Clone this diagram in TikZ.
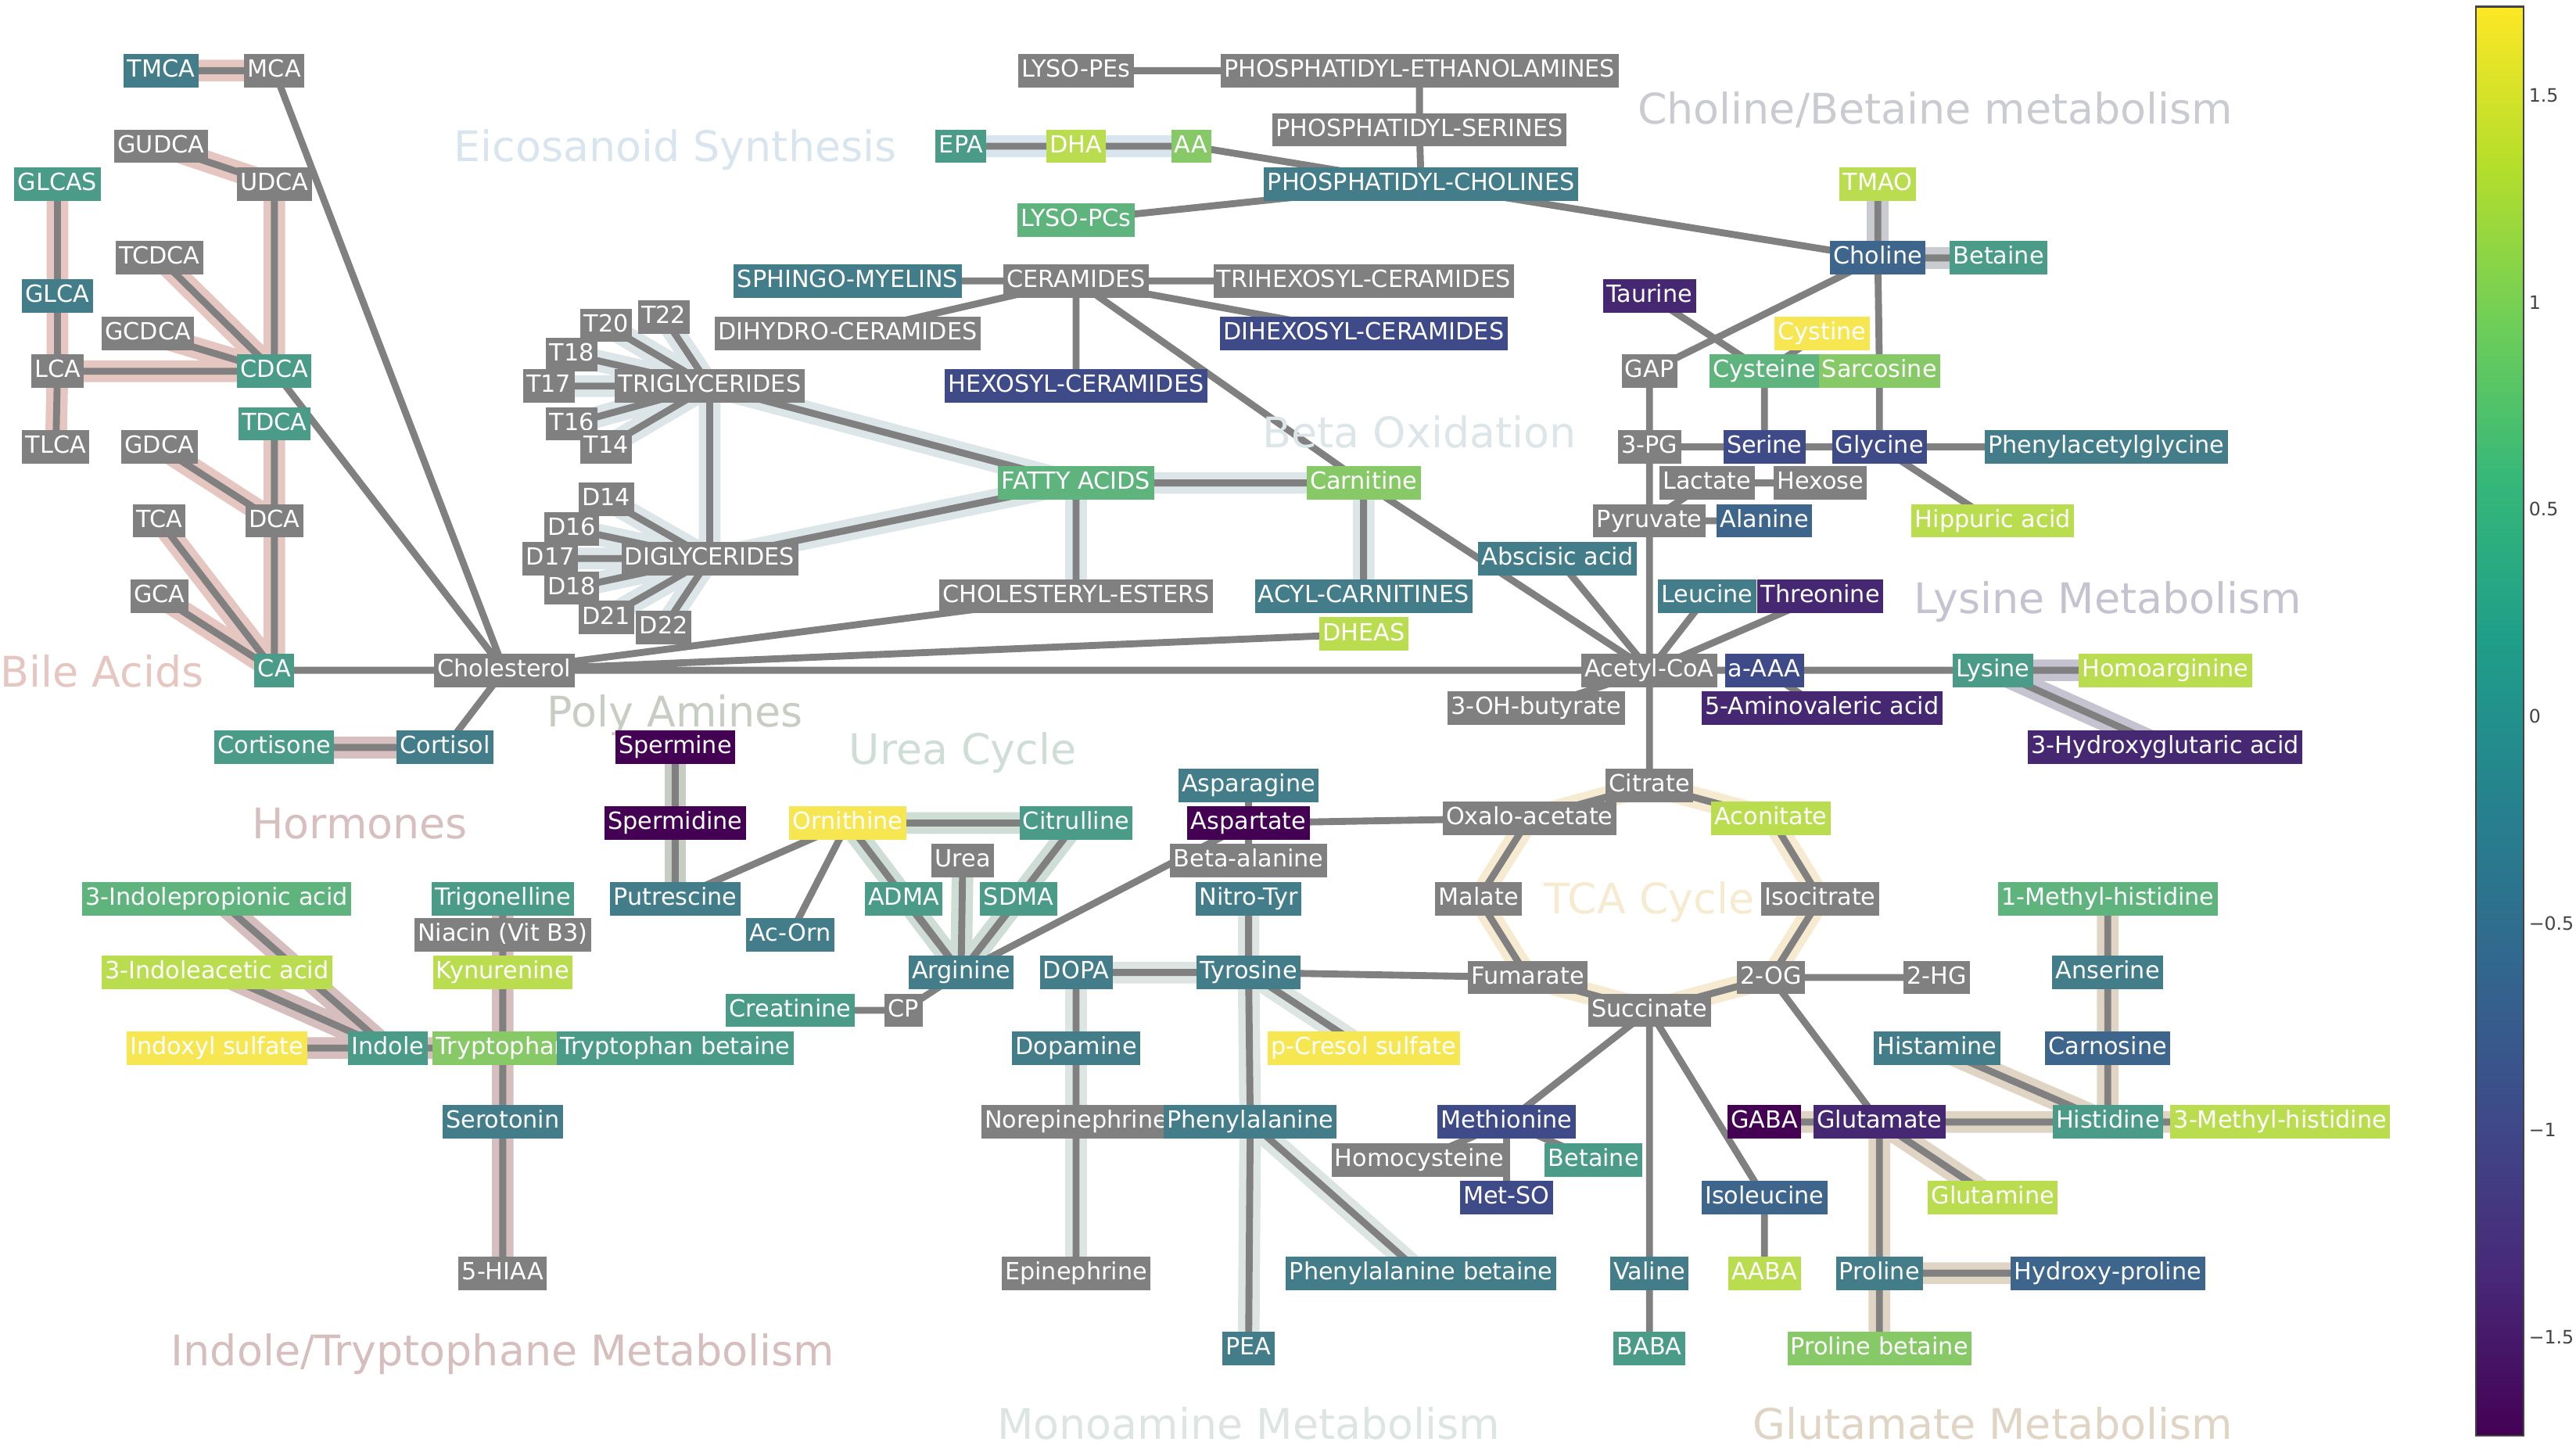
\documentclass[tikz,border=0pt]{standalone}
\usepackage{fontspec}
\setmainfont{DejaVu Sans}
\usetikzlibrary{positioning}
\definecolor{nodegray}{HTML}{808080}
\definecolor{linkgray}{HTML}{808080}
\definecolor{tickgray}{HTML}{444444}
\definecolor{deepfill}{HTML}{440154}
\definecolor{purplefill}{HTML}{452871}
\definecolor{indigofill}{HTML}{3F4A88}
\definecolor{bluefill}{HTML}{3E658C}
\definecolor{tealfill}{HTML}{437D89}
\definecolor{jadefill}{HTML}{4A9C88}
\definecolor{greenfill}{HTML}{5EB47C}
\definecolor{limefill}{HTML}{86C966}
\definecolor{chartfill}{HTML}{BADD4F}
\definecolor{yellowfill}{HTML}{F6E652}
\definecolor{bilecolor}{HTML}{E5C6C0}
\definecolor{hormonecolor}{HTML}{D8BFBF}
\definecolor{eicocolor}{HTML}{D9E5EE}
\definecolor{betacolor}{HTML}{DCE5E8}
\definecolor{cholinecolor}{HTML}{CACAD1}
\definecolor{lysinecolor}{HTML}{C5C3CF}
\definecolor{polycolor}{HTML}{C8CDC3}
\definecolor{ureacolor}{HTML}{CFDDD7}
\definecolor{tcacolor}{HTML}{F6EBD1}
\definecolor{glutcolor}{HTML}{E0D4C5}
\definecolor{monocolor}{HTML}{DDE5E2}
\definecolor{indolecolor}{HTML}{D6BEBE}
\definecolor{vir0}{HTML}{440154}
\definecolor{vir1}{HTML}{482878}
\definecolor{vir2}{HTML}{3E4A89}
\definecolor{vir3}{HTML}{31688E}
\definecolor{vir4}{HTML}{26828E}
\definecolor{vir5}{HTML}{1F9E89}
\definecolor{vir6}{HTML}{35B779}
\definecolor{vir7}{HTML}{6ECE58}
\definecolor{vir8}{HTML}{B5DE2B}
\definecolor{vir9}{HTML}{FDE725}
\pgfdeclareverticalshading{viridis}{100bp}{color(0bp)=(vir0); color(25bp)=(vir0);
  color(30.56bp)=(vir1); color(36.11bp)=(vir2); color(41.67bp)=(vir3); color(47.22bp)=(vir4);
  color(52.78bp)=(vir5); color(58.33bp)=(vir6); color(63.89bp)=(vir7); color(69.44bp)=(vir8);
  color(75bp)=(vir9); color(100bp)=(vir9)}
\pgfdeclarelayer{hlayer}
\pgfdeclarelayer{llayer}
\pgfsetlayers{hlayer,llayer,main}

\begin{document}
\begin{tikzpicture}[x=0.02cm, y=-0.02cm, every node/.style={font=\fontsize{8.2}{9}\selectfont}]

\tikzset{
  metab/.style={rectangle, fill=nodegray, text=white, inner xsep=1.2pt, inner ysep=1.7pt,
    text height=6.3pt, text depth=1.9pt},
  pathlabel/.style={font=\fontsize{14.6}{16}\selectfont, inner sep=0pt,
    text height=10.6pt, text depth=0pt},
  link/.style={draw=linkgray, line width=2.4pt},
  hilite/.style={line width=7.5pt},
  ticklabel/.style={font=\fontsize{6.4}{8}\selectfont, text=tickgray, anchor=west, inner sep=0pt},
}

\useasboundingbox (0,0) rectangle (1568,882);

% ---- pathway titles ----
\node[pathlabel, text=bilecolor]    (tbile)  at (62,409)   {Bile Acids};
\node[pathlabel, text=eicocolor]    (teico)  at (411,89)   {Eicosanoid Synthesis};
\node[pathlabel, text=cholinecolor] (tchol)  at (1178,66)  {Choline/Betaine metabolism};
\node[pathlabel, text=betacolor]    (tbeta)  at (864,263)  {Beta Oxidation};
\node[pathlabel, text=lysinecolor]  (tlys)   at (1283,364) {Lysine Metabolism};
\node[pathlabel, text=polycolor]    (tpoly)  at (411,433)  {Poly Amines};
\node[pathlabel, text=ureacolor]    (turea)  at (586,456)  {Urea Cycle};
\node[pathlabel, text=hormonecolor] (thorm)  at (219,501)  {Hormones};
\node[pathlabel, text=tcacolor]     (ttca)   at (1004,547) {TCA Cycle};
\node[pathlabel, text=indolecolor]  (tindo)  at (306,822)  {Indole/Tryptophane Metabolism};
\node[pathlabel, text=monocolor]    (tmono)  at (760,867)  {Monoamine Metabolism};
\node[pathlabel, text=glutcolor]    (tglut)  at (1213,867) {Glutamate Metabolism};

% ---- bile acids and hormones ----
\node[metab, fill=tealfill]  (tmca)  at (98,43)   {TMCA};
\node[metab]                 (mca)   at (167,43)  {MCA};
\node[metab]                 (gudca) at (98,89)   {GUDCA};
\node[metab]                 (udca)  at (167,112) {UDCA};
\node[metab, fill=jadefill]  (glcas) at (35,112)  {GLCAS};
\node[metab]                 (tcdca) at (97,157)  {TCDCA};
\node[metab, fill=tealfill]  (glca)  at (35,180)  {GLCA};
\node[metab]                 (gcdca) at (90,203)  {GCDCA};
\node[metab]                 (lca)   at (35,226)  {LCA};
\node[metab, fill=jadefill]  (cdca)  at (167,226) {CDCA};
\node[metab, fill=jadefill]  (tdca)  at (167,258) {TDCA};
\node[metab]                 (tlca)  at (34,272)  {TLCA};
\node[metab]                 (gdca)  at (97,272)  {GDCA};
\node[metab]                 (tca)   at (97,317)  {TCA};
\node[metab]                 (dca)   at (167,317) {DCA};
\node[metab]                 (gca)   at (97,363)  {GCA};
\node[metab, fill=jadefill]  (ca)    at (167,408) {CA};
\node[metab]                 (chol)  at (307,408) {Cholesterol};
\node[metab, fill=jadefill]  (cortisone) at (167,455) {Cortisone};
\node[metab, fill=tealfill]  (cortisol)  at (271,455) {Cortisol};

% ---- lipids ----
\node[metab]                 (lysope) at (655,43)  {LYSO-PEs};
\node[metab]                 (pe)     at (864,43)  {PHOSPHATIDYL-ETHANOLAMINES};
\node[metab]                 (ps)     at (864,79)  {PHOSPHATIDYL-SERINES};
\node[metab, fill=jadefill]  (epa)    at (585,89)  {EPA};
\node[metab, fill=chartfill] (dha)    at (655,89)  {DHA};
\node[metab, fill=limefill]  (aa)     at (725,89)  {AA};
\node[metab, fill=tealfill]  (pc)     at (865,112) {PHOSPHATIDYL-CHOLINES};
\node[metab, fill=greenfill] (lysopc) at (655,134) {LYSO-PCs};
\node[metab, fill=tealfill]  (sm)     at (516,171) {SPHINGO-MYELINS};
\node[metab]                 (cer)    at (655,171) {CERAMIDES};
\node[metab]                 (trihex) at (830,171) {TRIHEXOSYL-CERAMIDES};
\node[metab]                 (dihydro) at (516,203) {DIHYDRO-CERAMIDES};
\node[metab, fill=indigofill] (dihex)  at (830,203) {DIHEXOSYL-CERAMIDES};
\node[metab, fill=indigofill] (hexcer) at (655,235) {HEXOSYL-CERAMIDES};
\node[metab] (t20) at (369,198) {T20};
\node[metab] (t22) at (404,193) {T22};
\node[metab] (t18) at (348,216) {T18};
\node[metab] (t17) at (334,235) {T17};
\node[metab] (tg)  at (432,235) {TRIGLYCERIDES};
\node[metab] (t16) at (348,258) {T16};
\node[metab] (t14) at (369,272) {T14};
\node[metab] (d14) at (369,304) {D14};
\node[metab] (d16) at (348,322) {D16};
\node[metab] (d17) at (335,340) {D17};
\node[metab] (dg)  at (432,340) {DIGLYCERIDES};
\node[metab] (d18) at (348,358) {D18};
\node[metab] (d21) at (369,376) {D21};
\node[metab] (d22) at (404,382) {D22};
\node[metab, fill=greenfill] (fa)    at (655,294) {FATTY ACIDS};
\node[metab, fill=limefill]  (carn)  at (830,294) {Carnitine};
\node[metab]                 (ce)    at (655,363) {CHOLESTERYL-ESTERS};
\node[metab, fill=tealfill]  (acyl)  at (830,363) {ACYL-CARNITINES};
\node[metab, fill=chartfill] (dheas) at (830,386) {DHEAS};
\node[metab, fill=tealfill]  (absc)  at (948,340) {Abscisic acid};

% ---- choline, glycolysis, lysine ----
\node[metab, fill=chartfill]  (tmao)     at (1143,112) {TMAO};
\node[metab, fill=bluefill]   (choline)  at (1143,157) {Choline};
\node[metab, fill=jadefill, right=2.8mm of choline] (betaine) {Betaine};
\node[metab, fill=purplefill] (taurine)  at (1004,180) {Taurine};
\node[metab, fill=yellowfill] (cystine)  at (1109,203) {Cystine};
\node[metab]                  (gap)      at (1004,226) {GAP};
\node[metab, fill=greenfill]  (cysteine) at (1074,226) {Cysteine};
\node[metab, fill=limefill]   (sarcosine) at (1144,226) {Sarcosine};
\node[metab]                  (pg3)      at (1004,272) {3-PG};
\node[metab, fill=indigofill] (serine)   at (1074,272) {Serine};
\node[metab, fill=indigofill] (glycine)  at (1144,272) {Glycine};
\node[metab, fill=tealfill]   (pag)      at (1282,272) {Phenylacetylglycine};
\node[metab]                  (lactate)  at (1039,294) {Lactate};
\node[metab]                  (hexose)   at (1108,294) {Hexose};
\node[metab]                  (pyruvate) at (1004,317) {Pyruvate};
\node[metab, fill=bluefill]   (alanine)  at (1074,317) {Alanine};
\node[metab, fill=chartfill]  (hippuric) at (1213,317) {Hippuric acid};
\node[metab, fill=tealfill]   (leucine)  at (1039,363) {Leucine};
\node[metab, fill=purplefill] (threonine) at (1108,363) {Threonine};
\node[metab]                  (acoa)     at (1004,408) {Acetyl-CoA};
\node[metab, fill=indigofill] (aaaa)     at (1074,408) {a-AAA};
\node[metab, fill=jadefill]   (lysine)   at (1213,408) {Lysine};
\node[metab, fill=chartfill]  (homoarg)  at (1318,408) {Homoarginine};
\node[metab]                  (ohbut)    at (935,431)  {3-OH-butyrate};
\node[metab, fill=purplefill] (aminoval) at (1109,431) {5-Aminovaleric acid};
\node[metab, fill=purplefill] (hgluta)   at (1318,455) {3-Hydroxyglutaric acid};

% ---- poly amines, urea cycle, monoamines ----
\node[metab, fill=deepfill]   (spermine)   at (411,455) {Spermine};
\node[metab, fill=deepfill]   (spermidine) at (411,501) {Spermidine};
\node[metab, fill=tealfill]   (putrescine) at (411,547) {Putrescine};
\node[metab, fill=yellowfill] (ornithine)  at (516,501) {Ornithine};
\node[metab, fill=jadefill]   (citrulline) at (655,501) {Citrulline};
\node[metab]                  (urea)       at (586,524) {Urea};
\node[metab, fill=jadefill]   (adma)       at (550,547) {ADMA};
\node[metab, fill=jadefill]   (sdma)       at (620,547) {SDMA};
\node[metab, fill=tealfill]   (acorn)      at (481,569) {Ac-Orn};
\node[metab, fill=tealfill]   (arginine)   at (585,592) {Arginine};
\node[metab, fill=jadefill]   (creatinine) at (481,615) {Creatinine};
\node[metab]                  (cp)         at (550,615) {CP};
\node[metab, fill=tealfill]   (asparagine) at (760,478) {Asparagine};
\node[metab, fill=deepfill]   (aspartate)  at (760,501) {Aspartate};
\node[metab]                  (betaala)    at (760,524) {Beta-alanine};
\node[metab, fill=tealfill]   (nitrotyr)   at (760,547) {Nitro-Tyr};
\node[metab, fill=tealfill]   (dopa)       at (655,592) {DOPA};
\node[metab, fill=tealfill]   (tyrosine)   at (760,592) {Tyrosine};
\node[metab, fill=tealfill]   (dopamine)   at (655,638) {Dopamine};
\node[metab, fill=yellowfill] (pcresol)    at (830,638) {p-Cresol sulfate};
\node[metab]                  (norepi)     at (655,683) {Norepinephrine};
\node[metab, fill=tealfill]   (phe)        at (761,683) {Phenylalanine};
\node[metab]                  (epi)        at (655,775) {Epinephrine};
\node[metab, fill=tealfill]   (phebet)     at (865,775) {Phenylalanine betaine};
\node[metab, fill=tealfill]   (pea)        at (760,821) {PEA};

% ---- tca cycle and glutamate ----
\node[metab]                  (citrate)    at (1004,478) {Citrate};
\node[metab]                  (oaa)        at (931,498)  {Oxalo-acetate};
\node[metab, fill=chartfill]  (aconitate)  at (1078,498) {Aconitate};
\node[metab]                  (malate)     at (900,547)  {Malate};
\node[metab]                  (isocitrate) at (1108,547) {Isocitrate};
\node[metab]                  (fumarate)   at (930,595)  {Fumarate};
\node[metab]                  (og2)        at (1078,595) {2-OG};
\node[metab]                  (hg2)        at (1179,595) {2-HG};
\node[metab]                  (succinate)  at (1004,615) {Succinate};
\node[metab, fill=indigofill] (methionine) at (917,683)  {Methionine};
\node[metab]                  (homocys)    at (864,706)  {Homocysteine};
\node[metab, fill=jadefill]   (betaineb)   at (970,706)  {Betaine};
\node[metab, fill=indigofill] (metso)      at (917,729)  {Met-SO};
\node[metab, fill=bluefill]   (isoleucine) at (1074,729) {Isoleucine};
\node[metab, fill=tealfill]   (valine)     at (1004,775) {Valine};
\node[metab, fill=chartfill]  (aaba)       at (1074,775) {AABA};
\node[metab, fill=jadefill]   (baba)       at (1004,821) {BABA};
\node[metab, fill=deepfill]   (gaba)       at (1074,683) {GABA};
\node[metab, fill=purplefill] (glutamate)  at (1144,683) {Glutamate};
\node[metab, fill=chartfill]  (glutamine)  at (1213,729) {Glutamine};
\node[metab, fill=tealfill]   (proline)    at (1144,775) {Proline};
\node[metab, fill=bluefill]   (hyp)        at (1283,775) {Hydroxy-proline};
\node[metab, fill=limefill]   (probet)     at (1144,821) {Proline betaine};
\node[metab, fill=tealfill]   (histamine)  at (1179,638) {Histamine};
\node[metab, fill=jadefill]   (histidine)  at (1283,683) {Histidine};
\node[metab, fill=chartfill]  (mhis3)      at (1388,683) {3-Methyl-histidine};
\node[metab, fill=bluefill]   (carnosine)  at (1283,638) {Carnosine};
\node[metab, fill=tealfill]   (anserine)   at (1283,592) {Anserine};
\node[metab, fill=greenfill]  (mhis1)      at (1283,547) {1-Methyl-histidine};

% ---- indole / tryptophane ----
\node[metab, fill=greenfill]  (ipa)       at (132,547) {3-Indolepropionic acid};
\node[metab, fill=chartfill]  (iaa)       at (132,592) {3-Indoleacetic acid};
\node[metab, fill=yellowfill] (indoxyl)   at (132,638) {Indoxyl sulfate};
\node[metab, fill=jadefill]   (indole)    at (236,638) {Indole};
\node[metab, fill=jadefill]   (trigonelline) at (306,547) {Trigonelline};
\node[metab]                  (niacin)    at (306,569) {Niacin (Vit B3)};
\node[metab, fill=chartfill]  (kynurenine) at (306,592) {Kynurenine};
\node[metab, fill=limefill]   (trp)       at (306,638) {Tryptophan};
\node[metab, fill=jadefill]   (trpbet)    at (411,638) {Tryptophan betaine};
\node[metab, fill=tealfill]   (serotonin) at (306,683) {Serotonin};
\node[metab]                  (hiaa)      at (306,775) {5-HIAA};

% ---- pathway highlights ----
\begin{pgfonlayer}{hlayer}
\draw[hilite, bilecolor] (tmca.center) -- (mca.center) (gudca.center) -- (udca.center)
  (udca.center) -- (cdca.center) (glcas.center) -- (glca.center) (glca.center) -- (lca.center)
  (lca.center) -- (tlca.center) (lca.center) -- (cdca.center) (tcdca.center) -- (cdca.center)
  (gcdca.center) -- (cdca.center) (tdca.center) -- (dca.center) (gdca.center) -- (dca.center)
  (dca.center) -- (ca.center) (tca.center) -- (ca.center) (gca.center) -- (ca.center);
\draw[hilite, hormonecolor] (cortisone.center) -- (cortisol.center);
\draw[hilite, eicocolor] (epa.center) -- (dha.center) (dha.center) -- (aa.center);
\draw[hilite, betacolor] (t20.center) -- (tg.center) (t22.center) -- (tg.center)
  (t18.center) -- (tg.center) (t17.center) -- (tg.center) (t16.center) -- (tg.center)
  (t14.center) -- (tg.center) (tg.center) -- (dg.center) (tg.center) -- (fa.center)
  (dg.center) -- (fa.center) (d14.center) -- (dg.center) (d16.center) -- (dg.center)
  (d17.center) -- (dg.center) (d18.center) -- (dg.center) (d21.center) -- (dg.center)
  (d22.center) -- (dg.center) (fa.center) -- (carn.center) (fa.center) -- (ce.center)
  (carn.center) -- (acyl.center);
\draw[hilite, cholinecolor] (tmao.center) -- (choline.center) (choline.center) -- (betaine.center);
\draw[hilite, lysinecolor] (lysine.center) -- (homoarg.center) (lysine.center) -- (hgluta.center);
\draw[hilite, polycolor] (spermine.center) -- (spermidine.center) (spermidine.center) -- (putrescine.center);
\draw[hilite, ureacolor] (ornithine.center) -- (citrulline.center) (ornithine.center) -- (arginine.center)
  (citrulline.center) -- (arginine.center) (urea.center) -- (arginine.center);
\draw[hilite, monocolor] (nitrotyr.center) -- (tyrosine.center) (dopa.center) -- (tyrosine.center)
  (dopa.center) -- (dopamine.center) (dopamine.center) -- (norepi.center) (norepi.center) -- (epi.center)
  (tyrosine.center) -- (phe.center) (tyrosine.center) -- (pcresol.center) (phe.center) -- (pea.center)
  (phe.center) -- (phebet.center);
\draw[hilite, tcacolor] (citrate.center) -- (aconitate.center) (aconitate.center) -- (isocitrate.center)
  (isocitrate.center) -- (og2.center) (og2.center) -- (succinate.center) (succinate.center) -- (fumarate.center)
  (fumarate.center) -- (malate.center) (malate.center) -- (oaa.center) (oaa.center) -- (citrate.center);
\draw[hilite, glutcolor] (gaba.center) -- (glutamate.center) (glutamate.center) -- (histidine.center)
  (glutamate.center) -- (glutamine.center) (glutamate.center) -- (proline.center)
  (proline.center) -- (hyp.center) (proline.center) -- (probet.center)
  (histamine.center) -- (histidine.center) (carnosine.center) -- (histidine.center)
  (anserine.center) -- (carnosine.center) (mhis1.center) -- (anserine.center)
  (histidine.center) -- (mhis3.center);
\draw[hilite, indolecolor] (ipa.center) -- (indole.center) (iaa.center) -- (indole.center)
  (indoxyl.center) -- (indole.center) (indole.center) -- (trp.center)
  (trigonelline.center) -- (niacin.center) (niacin.center) -- (kynurenine.center)
  (kynurenine.center) -- (trp.center) (trp.center) -- (serotonin.center) (serotonin.center) -- (hiaa.center);
\end{pgfonlayer}

% ---- connectors ----
\begin{pgfonlayer}{llayer}
\draw[link] (tmca.center) -- (mca.center) (gudca.center) -- (udca.center)
  (udca.center) -- (cdca.center) (glcas.center) -- (glca.center) (glca.center) -- (lca.center)
  (lca.center) -- (tlca.center) (lca.center) -- (cdca.center) (tcdca.center) -- (cdca.center)
  (gcdca.center) -- (cdca.center) (tdca.center) -- (dca.center) (gdca.center) -- (dca.center)
  (dca.center) -- (ca.center) (tca.center) -- (ca.center) (gca.center) -- (ca.center)
  (mca.center) -- (chol.center) (cdca.center) -- (chol.center) (ca.center) -- (chol.center)
  (cortisone.center) -- (cortisol.center) (cortisol.center) -- (chol.center)
  (chol.center) -- (ce.center) (chol.center) -- (dheas.center) (chol.center) -- (acoa.center);
\draw[link] (lysope.center) -- (pe.center) (pe.center) -- (ps.center) (ps.center) -- (pc.center)
  (epa.center) -- (dha.center) (dha.center) -- (aa.center) (aa.center) -- (pc.center)
  (lysopc.center) -- (pc.center) (pc.center) -- (choline.center)
  (sm.center) -- (cer.center) (cer.center) -- (trihex.center) (cer.center) -- (dihydro.center)
  (cer.center) -- (dihex.center) (cer.center) -- (hexcer.center) (cer.center) -- (carn.center);
\draw[link] (t20.center) -- (tg.center) (t22.center) -- (tg.center)
  (t18.center) -- (tg.center) (t17.center) -- (tg.center) (t16.center) -- (tg.center)
  (t14.center) -- (tg.center) (tg.center) -- (dg.center) (tg.center) -- (fa.center)
  (dg.center) -- (fa.center) (d14.center) -- (dg.center) (d16.center) -- (dg.center)
  (d17.center) -- (dg.center) (d18.center) -- (dg.center) (d21.center) -- (dg.center)
  (d22.center) -- (dg.center) (fa.center) -- (carn.center) (fa.center) -- (ce.center)
  (carn.center) -- (acyl.center) (carn.center) -- (acoa.center) (absc.center) -- (acoa.center);
\draw[link] (tmao.center) -- (choline.center) (choline.center) -- (betaine.center)
  (gap.center) -- (choline.center) (choline.center) -- (sarcosine.center)
  (sarcosine.center) -- (glycine.center) (taurine.center) -- (cysteine.center)
  (cystine.center) -- (cysteine.center) (cysteine.center) -- (serine.center)
  (gap.center) -- (pg3.center) (pg3.center) -- (serine.center) (serine.center) -- (glycine.center)
  (glycine.center) -- (pag.center) (glycine.center) -- (hippuric.center)
  (pg3.center) -- (pyruvate.center) (lactate.center) -- (pyruvate.center)
  (lactate.center) -- (hexose.center) (pyruvate.center) -- (alanine.center)
  (pyruvate.center) -- (acoa.center) (leucine.center) -- (acoa.center)
  (threonine.center) -- (acoa.center) (ohbut.center) -- (acoa.center)
  (acoa.center) -- (aaaa.center) (aaaa.center) -- (lysine.center) (aaaa.center) -- (aminoval.center)
  (lysine.center) -- (homoarg.center) (lysine.center) -- (hgluta.center) (acoa.center) -- (citrate.center);
\draw[link] (spermine.center) -- (spermidine.center) (spermidine.center) -- (putrescine.center)
  (ornithine.center) -- (putrescine.center) (ornithine.center) -- (acorn.center)
  (ornithine.center) -- (citrulline.center) (ornithine.center) -- (arginine.center)
  (citrulline.center) -- (arginine.center) (urea.center) -- (arginine.center)
  (adma.center) -- (arginine.center) (sdma.center) -- (arginine.center)
  (arginine.center) -- (cp.center) (cp.center) -- (creatinine.center)
  (arginine.center) -- (aspartate.center) (asparagine.center) -- (aspartate.center)
  (aspartate.center) -- (betaala.center) (oaa.center) -- (aspartate.center);
\draw[link] (nitrotyr.center) -- (tyrosine.center) (dopa.center) -- (tyrosine.center)
  (dopa.center) -- (dopamine.center) (dopamine.center) -- (norepi.center) (norepi.center) -- (epi.center)
  (tyrosine.center) -- (phe.center) (tyrosine.center) -- (pcresol.center) (phe.center) -- (pea.center)
  (phe.center) -- (phebet.center) (tyrosine.center) -- (fumarate.center);
\draw[link] (citrate.center) -- (aconitate.center) (aconitate.center) -- (isocitrate.center)
  (isocitrate.center) -- (og2.center) (og2.center) -- (succinate.center) (succinate.center) -- (fumarate.center)
  (fumarate.center) -- (malate.center) (malate.center) -- (oaa.center) (oaa.center) -- (citrate.center)
  (og2.center) -- (hg2.center) (og2.center) -- (glutamate.center)
  (succinate.center) -- (methionine.center) (succinate.center) -- (valine.center)
  (succinate.center) -- (isoleucine.center) (valine.center) -- (baba.center)
  (isoleucine.center) -- (aaba.center) (methionine.center) -- (homocys.center)
  (methionine.center) -- (betaineb.center) (methionine.center) -- (metso.center);
\draw[link] (gaba.center) -- (glutamate.center) (glutamate.center) -- (histidine.center)
  (glutamate.center) -- (glutamine.center) (glutamate.center) -- (proline.center)
  (proline.center) -- (hyp.center) (proline.center) -- (probet.center)
  (histamine.center) -- (histidine.center) (carnosine.center) -- (histidine.center)
  (anserine.center) -- (carnosine.center) (mhis1.center) -- (anserine.center)
  (histidine.center) -- (mhis3.center);
\draw[link] (ipa.center) -- (indole.center) (iaa.center) -- (indole.center)
  (indoxyl.center) -- (indole.center) (indole.center) -- (trp.center)
  (trigonelline.center) -- (niacin.center) (niacin.center) -- (kynurenine.center)
  (kynurenine.center) -- (trp.center) (trp.center) -- (serotonin.center) (serotonin.center) -- (hiaa.center);
\end{pgfonlayer}

% ---- colour bar ----
\shade[shading=viridis] (1507,4) rectangle (1536,874);
\draw[tickgray, line width=0.6pt] (1507,4) rectangle (1536,874);
\node[ticklabel] (tick1) at (1539,58)  {1.5};
\node[ticklabel] (tick2) at (1539,184) {1};
\node[ticklabel] (tick3) at (1539,310) {0.5};
\node[ticklabel] (tick4) at (1539,436) {0};
\node[ticklabel] (tick5) at (1539,562) {−0.5};
\node[ticklabel] (tick6) at (1539,688) {−1};
\node[ticklabel] (tick7) at (1539,814) {−1.5};

\end{tikzpicture}
\end{document}
